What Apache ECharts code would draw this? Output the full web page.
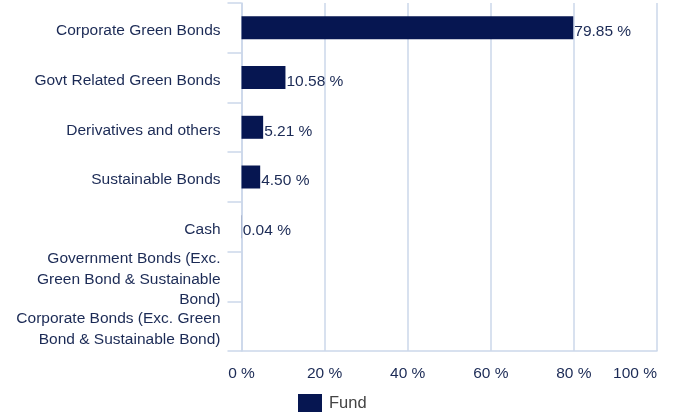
<!DOCTYPE html>
<html>
<head>
<meta charset="utf-8">
<script src="https://cdn.jsdelivr.net/npm/echarts@6/dist/echarts.min.js"></script>
<style>
html,body{margin:0;padding:0;background:#fff;}
#chart{width:675px;height:414px;}
</style>
</head>
<body>
<div id="chart"></div>
<script>
const categories = [
  "Corporate Green Bonds",
  "Govt Related Green Bonds",
  "Derivatives and others",
  "Sustainable Bonds",
  "Cash",
  "Government Bonds (Exc.\nGreen Bond & Sustainable\nBond)",
  "Corporate Bonds (Exc. Green\nBond & Sustainable Bond)"
];
const fundValues = [79.85, 10.58, 5.21, 4.50, 0.04, null, null];
const seriesName = "Fund";
const xTicks = { min: 0, max: 100, interval: 20 };

const navy = "#1b2a55";
const lineBlue = "#cbd7ea";
const FONT = "Liberation Sans, Arial, sans-serif";

const chart = echarts.init(document.getElementById('chart'), null, {renderer: 'canvas'});
chart.setOption({
  animation: false,
  grid: { left: 241.5, right: 18, top: 3, bottom: 63, containLabel: false },
  legend: {
    data: [seriesName],
    left: 298, top: 394, padding: 0,
    itemWidth: 24, itemHeight: 18, itemGap: 10,
    icon: 'rect',
    textStyle: { color: '#444444', fontSize: 16.5, fontFamily: FONT, padding: [2,0,0,2] }
  },
  xAxis: {
    type: 'value',
    min: xTicks.min, max: xTicks.max, interval: xTicks.interval,
    axisLine: { show: true, lineStyle: { color: lineBlue, width: 1.5 } },
    axisTick: { show: false },
    splitLine: { show: true, lineStyle: { color: lineBlue, width: 1.5 } },
    axisLabel: {
      formatter: '{value} %', color: navy, fontSize: 15.5, fontFamily: FONT,
      margin: 15, alignMaxLabel: 'right'
    }
  },
  yAxis: {
    type: 'category',
    data: categories,
    inverse: true,
    axisLine: { show: true, lineStyle: { color: lineBlue, width: 1.5 } },
    axisTick: { show: true, length: 14, lineStyle: { color: lineBlue, width: 1.5 } },
    axisLabel: {
      interval: 0, margin: 21, align: 'right',
      formatter: v => '{gap|}\n' + v.split('\n').map(s => '{a|' + s + '}').join('\n'),
      rich: {
        a: { color: navy, fontSize: 15.5, fontFamily: FONT, lineHeight: 20.5, align: 'right' },
        gap: { fontSize: 1, lineHeight: 6, height: 6 }
      }
    }
  },
  series: [{
    name: seriesName,
    type: 'bar',
    data: fundValues,
    barWidth: 23,
    itemStyle: { color: '#061651' },
    label: {
      show: true, position: 'right', distance: 1, offset: [0, 4],
      color: navy, fontSize: 15.5, fontFamily: FONT,
      formatter: p => (p.value == null ? '' : p.value.toFixed(2) + ' %')
    }
  }]
});
</script>
</body>
</html>
